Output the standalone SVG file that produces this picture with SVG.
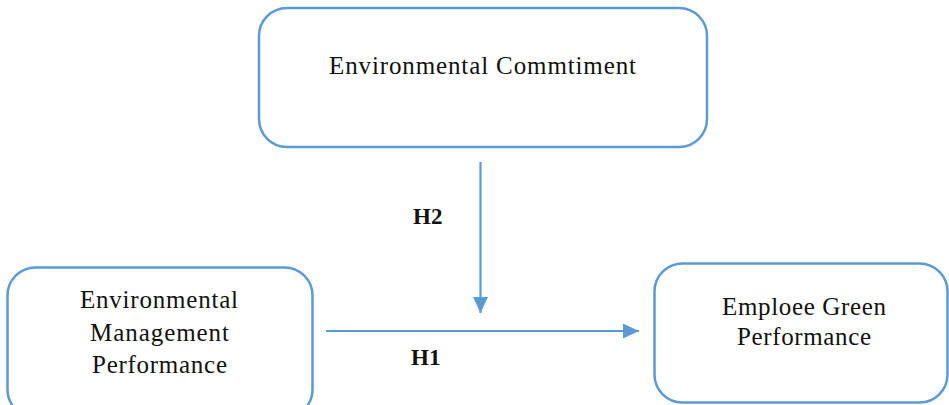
<svg xmlns="http://www.w3.org/2000/svg" width="949" height="405" viewBox="0 0 949 405">
<style>
.box{fill:#fff;stroke:#5B9BD5;stroke-width:2.5}
.t{font-family:"Liberation Serif","Times New Roman",serif;font-size:25px;fill:#111;text-anchor:middle}
.h{font-family:"Liberation Serif","Times New Roman",serif;font-size:23px;font-weight:bold;fill:#111}
.c{stroke:#5B9BD5;stroke-width:2.2;fill:none}
</style>
<defs>
<marker id="ah" markerWidth="16" markerHeight="16" viewBox="0 0 16 16" refX="16" refY="8" orient="auto" markerUnits="userSpaceOnUse">
<path d="M0,0.5 L16,8 L0,15.5 Z" fill="#5B9BD5"/>
</marker>
</defs>
<rect width="949" height="405" fill="#fff"/>
<g id="node-commitment">
<rect class="box" x="259" y="8" width="448" height="139" rx="28"/>
<text class="t" x="482.5" y="74" textLength="307">Environmental Commtiment</text>
</g>
<g id="node-emp">
<rect class="box" x="7.5" y="267.5" width="305" height="150" rx="28"/>
<text class="t" x="159" y="308" textLength="158">Environmental</text>
<text class="t" x="159.5" y="341" textLength="139">Management</text>
<text class="t" x="159.5" y="373" textLength="135">Performance</text>
</g>
<g id="node-egp">
<rect class="box" x="654.5" y="263.5" width="293" height="139" rx="28"/>
<text class="t" x="804" y="315" textLength="164">Emploee Green</text>
<text class="t" x="804" y="345" textLength="134">Performance</text>
</g>
<g id="connectors">
<line class="c" x1="480.5" y1="162" x2="480.5" y2="313" marker-end="url(#ah)"/>
<line class="c" x1="326" y1="331" x2="639" y2="331" marker-end="url(#ah)"/>
<text class="h" x="413" y="224">H2</text>
<text class="h" x="411" y="365">H1</text>
</g>
</svg>
